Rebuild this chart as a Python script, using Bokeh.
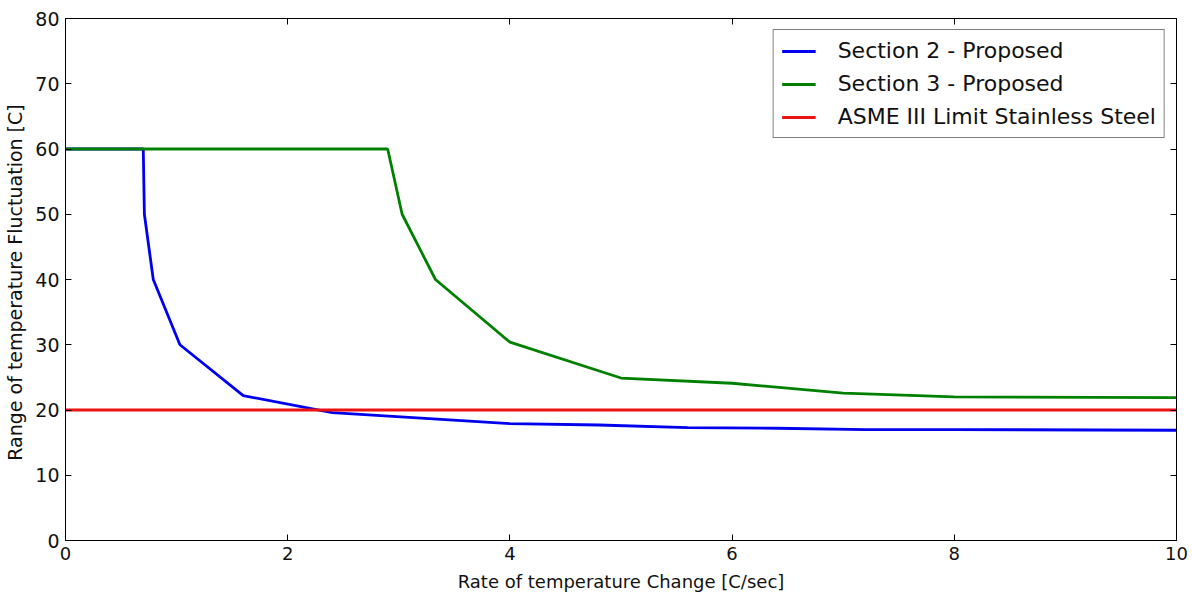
from bokeh.plotting import figure
from bokeh.models import LinearAxis, Range1d, Legend, LegendItem, FixedTicker
from bokeh.embed import file_html
from bokeh.resources import INLINE

# Data
s2_x = [0.0, 0.70, 0.71, 0.79, 1.03, 1.60, 2.40, 4.00, 4.80, 5.60, 6.40, 7.20, 8.00, 10.0]
s2_y = [60.0, 60.0, 50.0, 40.0, 30.0, 22.2, 19.6, 17.9, 17.7, 17.3, 17.2, 17.0, 17.0, 16.9]

s3_x = [0.0, 2.90, 3.03, 3.33, 4.00, 5.00, 6.00, 7.00, 8.00, 10.0]
s3_y = [60.0, 60.0, 50.0, 40.0, 30.4, 24.9, 24.1, 22.6, 22.0, 21.9]

limit_x = [0.0, 10.0]
limit_y = [20.0, 20.0]

x_ticks = [0, 2, 4, 6, 8, 10]
y_ticks = [0, 10, 20, 30, 40, 50, 60, 70, 80]

labels = ["Section 2 - Proposed", "Section 3 - Proposed", "ASME III Limit Stainless Steel"]
colors = ["#0000ee", "#008000", "#ee1111"]

FONT = "DejaVu Sans"

p = figure(width=1192, height=594, output_backend="svg", toolbar_location=None,
           x_range=Range1d(0, 10), y_range=Range1d(0, 80),
           min_border_left=65, min_border_right=16, min_border_top=18, min_border_bottom=54)
p.grid.visible = False
p.outline_line_color = "black"
p.outline_line_width = 1
p.background_fill_color = "white"
p.border_fill_color = "white"

r1 = p.line(s2_x, s2_y, line_color=colors[0], line_width=2.8)
r2 = p.line(s3_x, s3_y, line_color=colors[1], line_width=2.8)
r3 = p.line(limit_x, limit_y, line_color=colors[2], line_width=2.8)

def style(ax, size, show_labels=True):
    ax.major_tick_in = 6
    ax.major_tick_out = 0
    ax.minor_tick_line_color = None
    ax.axis_line_color = "black"
    ax.major_tick_line_color = "black"
    ax.major_label_text_font = FONT
    ax.major_label_text_font_size = size
    ax.major_label_text_color = "#111111"
    ax.axis_label_text_font = FONT
    ax.axis_label_text_font_size = size
    ax.axis_label_text_font_style = "normal"
    ax.axis_label_text_color = "#111111"
    if not show_labels:
        ax.major_label_text_font_size = "0px"
        ax.major_label_text_color = None

p.xaxis.ticker = FixedTicker(ticks=x_ticks)
p.yaxis.ticker = FixedTicker(ticks=y_ticks)
p.xaxis.axis_label = "Rate of temperature Change [C/sec]"
p.yaxis.axis_label = "Range of temperature Fluctuation  [C]"
style(p.xaxis[0], "18px")
style(p.yaxis[0], "19px")
p.xaxis.major_label_standoff = 6
p.yaxis.major_label_standoff = 6
p.xaxis.axis_label_standoff = 8
p.yaxis.axis_label_standoff = 6

top = LinearAxis(ticker=FixedTicker(ticks=x_ticks))
right = LinearAxis(ticker=FixedTicker(ticks=y_ticks))
style(top, "0px", False)
style(right, "0px", False)
p.add_layout(top, "above")
p.add_layout(right, "right")

legend = Legend(items=[LegendItem(label=labels[0], renderers=[r1]),
                       LegendItem(label=labels[1], renderers=[r2]),
                       LegendItem(label=labels[2], renderers=[r3])],
                location="top_right")
legend.margin = 11
legend.padding = 8
legend.spacing = 8
legend.glyph_width = 34
legend.glyph_height = 24
legend.label_standoff = 22
legend.label_height = 24
legend.label_text_font = FONT
legend.label_text_font_size = "22px"
legend.label_text_color = "#111111"
legend.border_line_color = "black"
legend.border_line_width = 1
legend.background_fill_alpha = 1.0
p.add_layout(legend, "center")

open("out.html", "w").write(file_html(p, INLINE))
